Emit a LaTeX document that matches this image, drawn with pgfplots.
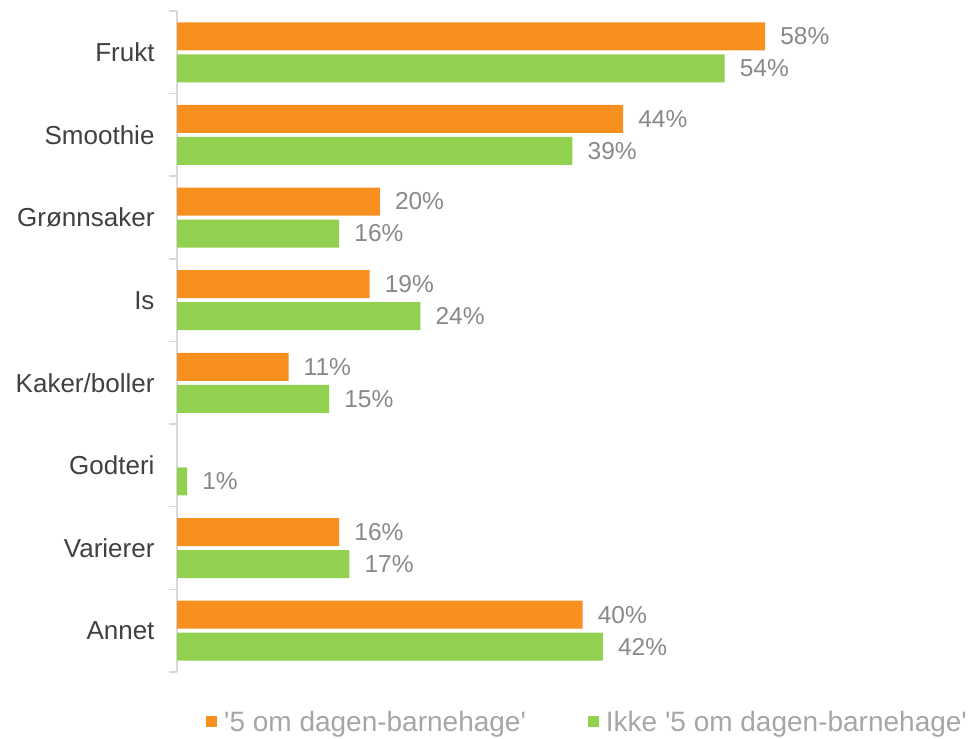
\documentclass[border=0pt]{standalone}
\usepackage{pgfplots}
\pgfplotsset{compat=1.18}
\usepackage{fontspec}
\setmainfont{Liberation Sans}
\definecolor{orangebar}{RGB}{247,144,30}
\definecolor{greenbar}{RGB}{146,208,80}
\definecolor{catgray}{RGB}{64,64,64}
\definecolor{valgray}{RGB}{137,137,137}
\definecolor{leggray}{RGB}{166,166,166}
\definecolor{axgray}{RGB}{217,217,217}
\begin{document}
\begin{tikzpicture}
\useasboundingbox (0,0) rectangle (971bp,739bp);
\begin{axis}[
  at={(177bp,67bp)}, anchor=south west,
  scale only axis, width=608.4bp, height=661bp,
  xbar, bar width=28bp,
  xmin=0, xmax=60, ymin=-0.5, ymax=7.5,
  enlargelimits=false, clip=false,
  axis x line=none,
  axis y line*=left,
  y axis line style={draw=axgray, line width=1.5bp},
  ytick={0,1,2,3,4,5,6,7},
  yticklabels={Annet,Varierer,Godteri,Kaker/boller,Is,Grønnsaker,Smoothie,Frukt},
  minor ytick={-0.5,0.5,1.5,2.5,3.5,4.5,5.5,6.5,7.5},
  tick align=outside,
  major tick length=0pt,
  minor tick length=8bp,
  minor tick style={draw=axgray, line width=1.5bp},
  yticklabel style={font=\fontsize{26bp}{31bp}\selectfont, text=catgray, xshift=-19bp},
  /pgf/number format/assume math mode=true,
  nodes near coords={\pgfmathprintnumber{\pgfplotspointmeta}\%},
  nodes near coords style={font=\fontsize{24.5bp}{29bp}\selectfont, text=valgray, anchor=west, inner sep=0pt, xshift=15bp},
  legend columns=2,
  legend style={at={(0.0427,-0.0756)}, anchor=west, draw=none, fill=none,
    font=\fontsize{28bp}{33bp}\selectfont, text=leggray,
    /tikz/every even column/.append style={column sep=60bp}},
  legend image code/.code={\fill[#1] (0bp,-5.5bp) rectangle (11bp,5.5bp); \path (11bp,0bp) -- (16bp,0bp);},
]
\addplot[fill=orangebar, draw=none, bar shift=16bp] coordinates {
  (40,0) (16,1) (11,3) (19,4) (20,5) (44,6) (58,7)
};
\addlegendentry{\textquotesingle 5 om dagen-barnehage\textquotesingle}
\addplot[fill=greenbar, draw=none, bar shift=-16bp] coordinates {
  (42,0) (17,1) (1,2) (15,3) (24,4) (16,5) (39,6) (54,7)
};
\addlegendentry{Ikke \textquotesingle 5 om dagen-barnehage\textquotesingle}
\end{axis}
\end{tikzpicture}
\end{document}
